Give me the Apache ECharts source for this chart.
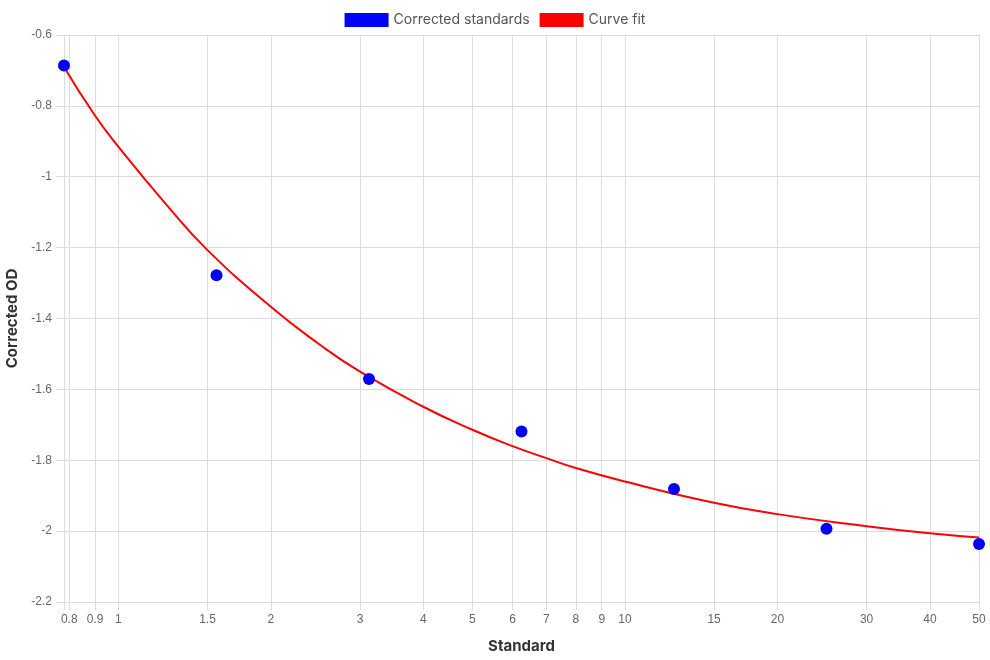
<!DOCTYPE html>
<html>
<head>
<meta charset="utf-8">
<script src="https://cdn.jsdelivr.net/npm/echarts@6/dist/echarts.min.js"></script>
<style>
  html, body { margin: 0; padding: 0; background: #fff; }
  #chart { width: 990px; height: 660px; }
</style>
</head>
<body>
<div id="chart"></div>
<script>
var standardX = [0.78125, 1.5625, 3.125, 6.25, 12.5, 25, 50];
var standardY = [-0.686, -1.278, -1.571, -1.719, -1.881, -1.993, -2.036];

var fitX = [0.78125, 0.9, 1, 1.25, 1.5, 2, 2.5, 3, 4, 5, 6, 7, 8, 10, 15, 20, 30, 40, 50];
var fitY = [-0.69, -0.828, -0.915, -1.082, -1.207, -1.367, -1.474, -1.55, -1.649, -1.714, -1.76, -1.794, -1.822, -1.86, -1.92, -1.952, -1.986, -2.006, -2.018];

var xTicks = [0.8, 0.9, 1, 1.5, 2, 3, 4, 5, 6, 7, 8, 9, 10, 15, 20, 30, 40, 50];

function pairs(xs, ys) {
  return xs.map(function (x, i) { return [x, ys[i]]; });
}

var chart = echarts.init(document.getElementById('chart'));
var option = {
  animation: false,
  legend: {
    top: 8,
    left: 'center',
    itemWidth: 44,
    itemHeight: 14,
    itemGap: 10,
    textStyle: { fontFamily: 'Inter', fontSize: 14, color: '#555' },
    data: [
      { name: 'Corrected standards', icon: 'rect' },
      { name: 'Curve fit', icon: 'rect' }
    ]
  },
  grid: { left: 64, right: 11, top: 35, bottom: 58, outerBoundsMode: 'none' },
  xAxis: {
    type: 'log',
    logBase: 10,
    min: 0.78125,
    max: 50,
    name: 'Standard',
    nameLocation: 'middle',
    nameGap: 37,
    nameTextStyle: { fontFamily: 'Inter', fontWeight: 'bold', fontSize: 15, color: '#333' },
    axisLine: { lineStyle: { color: '#dcdcdc' } },
    axisTick: { show: true, length: 8, lineStyle: { color: '#dcdcdc' }, customValues: [0.78125].concat(xTicks) },
    axisLabel: { customValues: xTicks, margin: 12, fontFamily: 'Liberation Sans', fontSize: 12, color: '#666' },
    splitLine: { show: true, lineStyle: { color: '#dcdcdc' } }
  },
  yAxis: {
    type: 'value',
    min: -2.2,
    max: -0.6,
    interval: 0.2,
    name: 'Corrected OD',
    nameLocation: 'middle',
    nameGap: 44,
    nameTextStyle: { fontFamily: 'Inter', fontWeight: 'bold', fontSize: 15, color: '#333' },
    axisLine: { show: true, lineStyle: { color: '#dcdcdc' } },
    axisTick: { show: true, length: 8, lineStyle: { color: '#dcdcdc' } },
    axisLabel: { margin: 12, fontFamily: 'Liberation Sans', fontSize: 12, color: '#666' },
    splitLine: { show: true, lineStyle: { color: '#dcdcdc' } }
  },
  series: [
    {
      name: 'Curve fit',
      type: 'line',
      smooth: 0.5,
      showSymbol: false,
      symbol: 'none',
      itemStyle: { color: '#ff0000' },
      lineStyle: { color: '#ff0000', width: 2 },
      data: pairs(fitX, fitY),
      z: 2
    },
    {
      name: 'Corrected standards',
      type: 'scatter',
      symbolSize: 12,
      itemStyle: { color: '#0000ff', opacity: 1 },
      data: pairs(standardX, standardY),
      z: 3
    }
  ]
};
chart.setOption(option);
window.addEventListener('resize', chart.resize);
</script>
</body>
</html>
